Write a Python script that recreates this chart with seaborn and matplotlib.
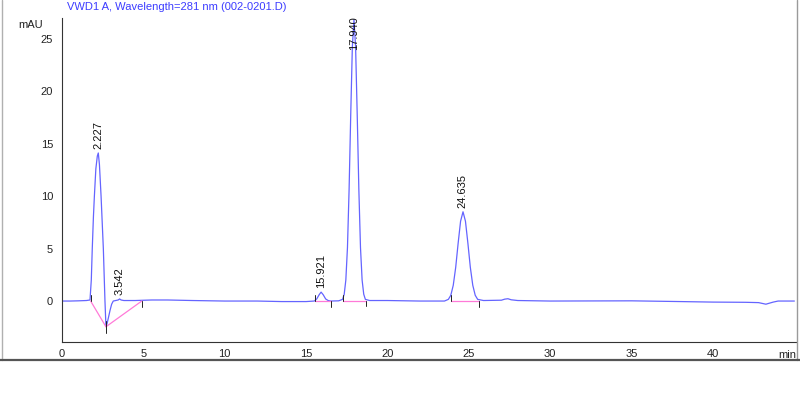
import matplotlib
matplotlib.use("Agg")
import matplotlib.pyplot as plt
import pandas as pd
import seaborn as sns
from matplotlib.lines import Line2D
from matplotlib.ticker import MultipleLocator

# ── Data ──────────────────────────────────────────────────────────────

TIME_MIN = [
    0.0, 0.5, 1.0, 1.5, 1.72, 1.80, 1.86, 1.93, 1.99, 2.08, 2.17, 2.23,
    2.30, 2.40, 2.54, 2.64, 2.70, 2.76, 2.85, 2.95, 3.05, 3.15, 3.30, 3.45,
    3.54, 3.63, 3.80, 4.5, 5.5, 6.5, 8.0, 10.0, 12.0, 13.5, 15.0, 15.5,
    15.65, 15.80, 15.92, 16.05, 16.20, 16.35, 16.5, 17.0, 17.24, 17.34,
    17.44, 17.54, 17.64, 17.74, 17.84, 17.94, 18.04, 18.14, 18.24, 18.34,
    18.44, 18.54, 18.64, 18.9, 20.0, 22.0, 23.5, 23.74, 23.89, 24.04, 24.19,
    24.34, 24.49, 24.64, 24.79, 24.94, 25.09, 25.24, 25.39, 25.54, 25.9,
    27.0, 27.2, 27.4, 27.6, 28.0, 30.0, 35.0, 38.0, 40.0, 42.0, 42.8,
    43.25, 43.7, 44.0, 45.0,
]
SIGNAL_MAU = [
    0.0, 0.0, 0.02, 0.05, 0.1, 2.0, 5.0, 8.0, 10.0, 12.6, 13.8, 14.1,
    13.0, 10.0, 5.0, 0.0, -2.4, -2.2, -1.6, -0.9, -0.3, 0.0, 0.05, 0.1,
    0.2, 0.1, 0.05, 0.05, 0.1, 0.1, 0.05, 0.0, 0.0, -0.05, -0.05, 0.0,
    0.2, 0.6, 0.85, 0.6, 0.2, 0.05, 0.0, 0.02, 0.16, 0.65,
    2.0, 5.1, 10.6, 17.7, 24.2, 26.8, 24.2, 17.7, 10.6, 5.1,
    2.0, 0.65, 0.16, 0.05, 0.05, 0.0, 0.0, 0.16, 0.55, 1.5, 3.2,
    5.5, 7.6, 8.5, 7.6, 5.5, 3.2, 1.5, 0.55, 0.16, 0.05,
    0.08, 0.18, 0.22, 0.12, 0.05, 0.0, 0.02, -0.05, -0.1, -0.12, -0.15,
    -0.3, -0.1, 0.0, 0.0,
]

PEAK_RT = [2.227, 3.542, 15.921, 17.940, 24.635]
PEAK_TOP = [14.1, 0.2, 0.85, 26.8, 8.5]

# integration baselines: start (t, y) -> end (t, y)
BASE_T0 = [1.76, 2.70, 15.55, 17.27, 23.92]
BASE_Y0 = [0.0, -2.45, 0.0, 0.05, 0.0]
BASE_T1 = [2.70, 4.90, 16.50, 18.70, 25.60]
BASE_Y1 = [-2.45, 0.0, 0.0, 0.05, 0.0]

TITLE = "VWD1 A, Wavelength=281 nm (002-0201.D)"

# ── Style ─────────────────────────────────────────────────────────────

sns.set_style("white")
plt.rcParams["font.family"] = ["Liberation Sans", "DejaVu Sans"]
plt.rcParams["font.size"] = 8

W, H = 800, 418
fig = plt.figure(figsize=(W / 100, H / 100), dpi=100)
ax = fig.add_axes([62 / W, 1 - 342 / H, (796 - 62) / W, (342 - 17.5) / H])

df = pd.DataFrame({"t": TIME_MIN, "mAU": SIGNAL_MAU})
sns.lineplot(data=df, x="t", y="mAU", ax=ax, color="#6464ff", lw=0.9,
             estimator=None, sort=True)

# baselines (pink) and boundary ticks
for t0, y0, t1, y1 in zip(BASE_T0, BASE_Y0, BASE_T1, BASE_Y1):
    ax.plot([t0, t1], [y0, y1], color="#ff7ad8", lw=0.9, zorder=3)
    ax.plot([t0, t0], [y0, y0 + 0.55], color="#222222", lw=0.7, zorder=4)
    ax.plot([t1, t1], [y1, y1 - 0.55], color="#222222", lw=0.7, zorder=4)

# retention time labels
for rt, top in zip(PEAK_RT, PEAK_TOP):
    y_lab = min(top, 23.5)
    ax.annotate(f"{rt:.3f}", xy=(rt, y_lab), xytext=(0, 3),
                textcoords="offset points", rotation=90,
                ha="center", va="bottom", fontsize=8, color="#111111")

ax.set_xlim(0, 45.1)
ax.set_ylim(-3.9, 27)
ax.set_xlabel("")
ax.set_ylabel("")

ax.xaxis.set_major_locator(MultipleLocator(5))
ax.xaxis.set_minor_locator(MultipleLocator(1))
ax.yaxis.set_major_locator(MultipleLocator(5))
ax.yaxis.set_minor_locator(MultipleLocator(1))
ax.set_xticks(range(0, 45, 5))

ax.tick_params(axis="x", which="major", direction="in", length=2.8,
               width=0.7, pad=5, labelsize=8, colors="#222222")
ax.tick_params(axis="x", which="minor", direction="in", length=2.2,
               width=0.7)
ax.tick_params(axis="y", which="major", direction="out", length=4.8,
               width=0.7, pad=1.7, labelsize=8, colors="#222222")
ax.tick_params(axis="y", which="minor", direction="out", length=2.4,
               width=0.7)

for side in ("top", "right"):
    ax.spines[side].set_visible(False)
for side in ("left", "bottom"):
    ax.spines[side].set_color("#333333")
    ax.spines[side].set_linewidth(0.8)

# header texts and outer frame
fig.text(67 / W, 1 - 10.5 / H, TITLE, color="#3c3cff", fontsize=8,
         ha="left", va="baseline")
fig.text(43 / W, 1 - 28 / H, "mAU", fontsize=8, ha="right", va="baseline",
         color="#222222")
fig.text(796 / W, 1 - 358.5 / H, "min", fontsize=8, ha="right",
         va="baseline", color="#222222")

y_bot = 1 - 360 / H
fig.add_artist(Line2D([1.5 / W, 1.5 / W], [y_bot, 1], transform=fig.transFigure,
                      color="#b0b0b0", lw=1))
fig.add_artist(Line2D([796.5 / W, 796.5 / W], [y_bot, 1], transform=fig.transFigure,
                      color="#9a9a9a", lw=1))
fig.add_artist(Line2D([0, 1], [y_bot, y_bot], transform=fig.transFigure,
                      color="#555555", lw=1.6))

fig.savefig("out.png", dpi=100)
plt.close(fig)
